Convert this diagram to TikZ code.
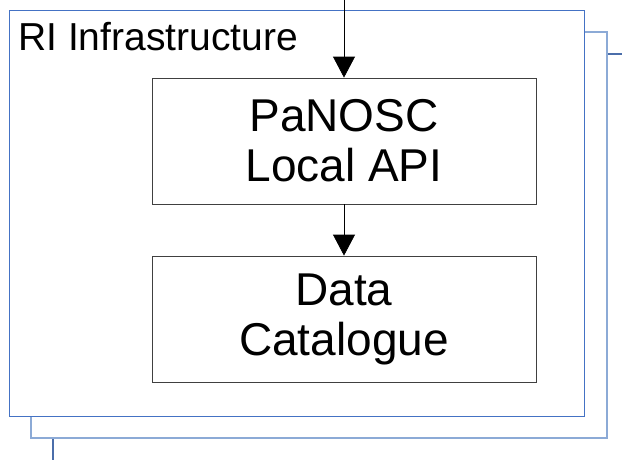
\documentclass[tikz,border=0pt]{standalone}
\usepackage{fontspec}
\setmainfont{Liberation Sans}
\usetikzlibrary{arrows.meta}
\definecolor{frameblue}{RGB}{68,114,196}
\definecolor{shadeblue}{RGB}{140,170,214}
\definecolor{backblue}{RGB}{75,110,170}
\begin{document}
\begin{tikzpicture}[
      x=1pt, y=-1pt,
      linet/.style={thick, draw=black,
        -{Triangle[width=22pt,length=21pt]}},
      punkt/.style={rectangle, draw=black!75, thick, fill=white,
        minimum width=384pt, minimum height=126pt,
        align=center, font=\fontsize{46}{50}\selectfont}
    ]
    \useasboundingbox (0,0) rectangle (622,459);
    \clip (0,0) rectangle (622,459);
    % stacked frames of the infrastructure
    \draw[backblue, line width=1.2pt, fill=white] (53,54) rectangle (660,500);
    \draw[shadeblue, line width=1.8pt, fill=white] (31,32) rectangle (607,438);
    \draw[frameblue, line width=1pt, fill=white] (9,10) rectangle (584,416);
    \node[anchor=base west, inner sep=0pt, font=\fontsize{39}{43}\selectfont]
      (ri) at (18,50) {RI Infrastructure};
    \path (344,141) node(api) [punkt] {PaNOSC\\Local API}
          (344,319) node(cat) [punkt] {Data\\Catalogue};
    \coordinate (in) at (344,-2);
    \draw[linet] (in) -- (api);
    \draw[linet] (api) -- (cat);
  \end{tikzpicture}
\end{document}
